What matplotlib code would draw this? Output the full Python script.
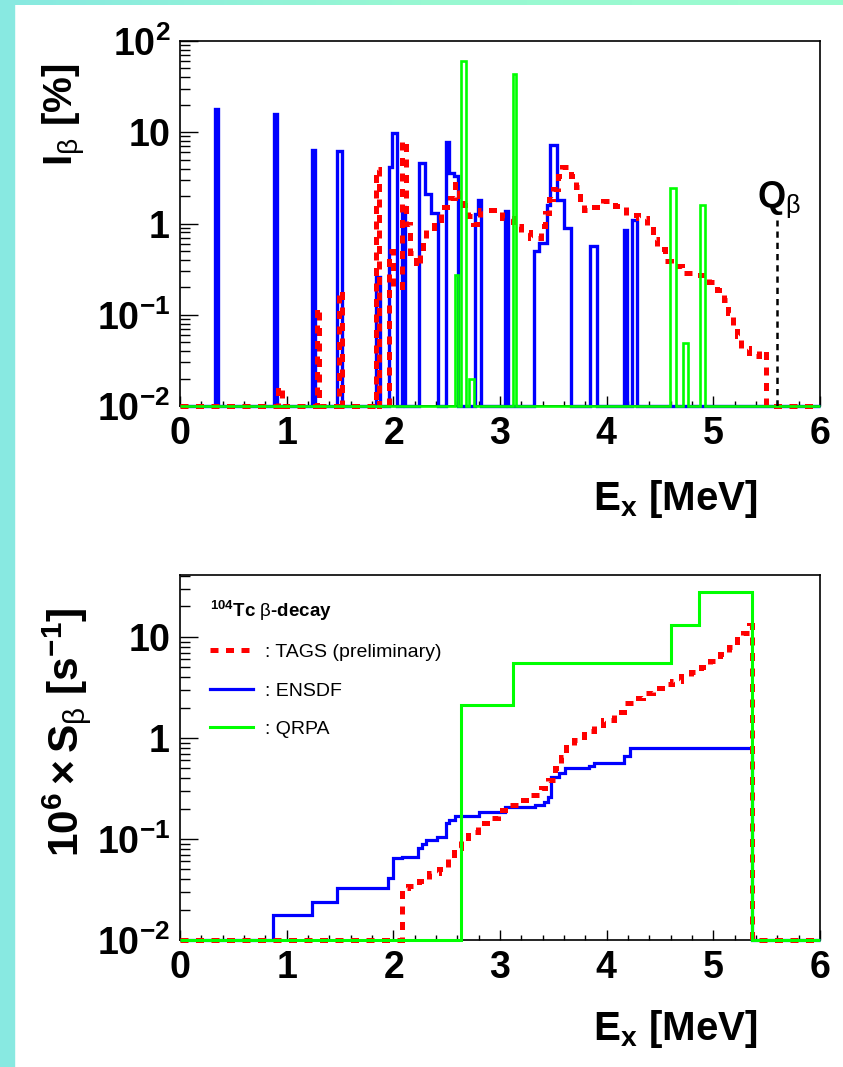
import numpy as np
import matplotlib
matplotlib.use("Agg")
import matplotlib.pyplot as plt
from matplotlib.lines import Line2D
from matplotlib.patches import Rectangle
from matplotlib.colors import LinearSegmentedColormap
from matplotlib.ticker import FuncFormatter, MultipleLocator, LogLocator, NullFormatter

plt.rcParams['font.family'] = ['Liberation Sans', 'DejaVu Sans']
plt.rcParams['mathtext.fontset'] = 'custom'
plt.rcParams['mathtext.rm'] = 'Liberation Sans'
plt.rcParams['mathtext.bf'] = 'Liberation Sans:bold'
plt.rcParams['mathtext.it'] = 'Liberation Sans:italic'

# ---- top panel: beta intensity per level (bars as lo, hi, value) ----
ensdf_bars = [(0.325, 0.355, 18), (0.883, 0.912, 16), (1.24, 1.27, 6.4), (1.473, 1.517, 6.2),
              (1.833, 1.877, 0.26), (1.959, 1.99, 4.2), (1.99, 2.033, 9.7), (2.08, 2.11, 1.5),
              (2.239, 2.297, 4.6), (2.297, 2.353, 2.1), (2.353, 2.416, 1.3),
              (2.492, 2.525, 7.8), (2.525, 2.569, 3.6), (2.569, 2.605, 3.3),
              (2.764, 2.79, 1.26), (2.79, 2.826, 1.8), (3.045, 3.075, 1.36),
              (3.32, 3.369, 0.50), (3.369, 3.44, 0.61), (3.44, 3.47, 1.6), (3.47, 3.53, 7.2),
              (3.53, 3.60, 1.8), (3.60, 3.666, 0.9), (3.844, 3.906, 0.57), (4.16, 4.19, 0.84),
              (4.24, 4.283, 1.09)]
qrpa_bars = [(2.58, 2.61, 0.27), (2.632, 2.68, 60), (2.708, 2.758, 0.02), (3.12, 3.15, 43),
             (4.598, 4.65, 2.47), (4.716, 4.764, 0.049), (4.876, 4.924, 1.58)]
tags_edges = [0.0, 0.92, 0.96, 1.28, 1.30, 1.495, 1.52, 1.835, 1.87, 1.96, 2.00, 2.085, 2.12,
              2.16, 2.21, 2.25, 2.28, 2.31, 2.38, 2.45, 2.53, 2.58, 2.62, 2.66, 2.70, 2.75, 2.81,
              3.02, 3.12, 3.20, 3.28, 3.38, 3.42, 3.46, 3.50, 3.54, 3.58, 3.67, 3.71, 3.75, 3.79,
              3.88, 3.97, 4.08, 4.18, 4.29, 4.38, 4.43, 4.47, 4.55, 4.60, 4.71, 4.84, 4.96, 5.03,
              5.10, 5.14, 5.18, 5.22, 5.26, 5.33, 5.43, 5.49, 6.0]
tags_vals = [0.01, 0.016, 0.01, 0.12, 0.01, 0.18, 0.01, 4.0, 0.01, 0.5, 0.2, 8.0, 1.0,
             0.47, 0.34, 0.48, 0.67, 0.9, 1.1, 1.5, 1.9, 2.7, 2.0, 1.6, 1.2, 1.0, 1.4,
             1.15, 0.95, 0.8, 0.7, 0.93, 1.3, 1.85, 2.4, 3.3, 4.2, 3.3, 2.5, 1.85, 1.4,
             1.5, 1.75, 1.55, 1.25, 1.16, 0.88, 0.67, 0.52, 0.39, 0.34, 0.29, 0.27, 0.23, 0.185,
             0.146, 0.104, 0.078, 0.058, 0.043, 0.035, 0.04, 0.01]
q_beta = 5.60
q_beta_top = 1.1

# ---- bottom panel: cumulative strength ----
ensdf_cum_edges = [0, 0.875, 1.235, 1.47, 1.947, 1.994, 2.08, 2.23, 2.27, 2.31, 2.41, 2.49, 2.52,
                   2.58, 2.80, 3.05, 3.33, 3.41, 3.45, 3.48, 3.55, 3.61, 3.83, 3.88, 4.16, 4.22,
                   5.36, 6.0]
ensdf_cum_vals = [0.01, 0.0177, 0.024, 0.0325, 0.041, 0.0645, 0.067, 0.081, 0.089, 0.098, 0.105,
                  0.143, 0.155, 0.169, 0.187, 0.209, 0.218, 0.234, 0.26, 0.414, 0.454, 0.50, 0.53,
                  0.57, 0.66, 0.8, 0.01]
tags_cum_edges = [0, 2.08, 2.14, 2.24, 2.33, 2.43, 2.51, 2.57, 2.63, 2.70, 2.79, 2.88, 2.98, 3.08,
                  3.18, 3.28, 3.38, 3.45, 3.52, 3.57, 3.62, 3.69, 3.79, 3.88, 3.97, 4.07, 4.16,
                  4.25, 4.34, 4.43, 4.52, 4.61, 4.70, 4.79, 4.88, 4.97, 5.06, 5.15, 5.22, 5.28,
                  5.33, 5.36, 6.0]
tags_cum_vals = [0.01, 0.0325, 0.034, 0.038, 0.046, 0.051, 0.064, 0.081, 0.102, 0.118, 0.143, 0.16,
                 0.194, 0.217, 0.243, 0.273, 0.318, 0.384, 0.50, 0.65, 0.82, 0.955, 1.16, 1.35,
                 1.5, 1.82, 2.2, 2.5, 2.8, 3.1, 3.4, 3.7, 4.1, 4.5, 5.0, 5.8, 6.8, 8.0, 9.5, 11,
                 13, 0.01]
qrpa_cum_edges = [0, 2.63, 3.12, 4.60, 4.87, 5.36, 6.0]
qrpa_cum_vals = [0.01, 2.1, 5.5, 13, 28, 0.01]

legend_title = r'$^{\mathbf{104}}$Tc $\mathrm{\beta}$-decay'
legend_labels = [': TAGS (preliminary)', ': ENSDF', ': QRPA']

RED, BLUE, GREEN = '#ff0000', '#0000ff', '#00ff00'
DASH = (0, (1.6, 1.5))


#turns a list of bars into edges/values for a step histogram
def bars_to_steps(bars, base=0.01, xmax=6.0):
    edges = [0.0]
    vals = []
    for lo, hi, v in bars:
        if lo > edges[-1] + 1e-9:
            vals.append(base)
            edges.append(lo)
        vals.append(v)
        edges.append(hi)
    if edges[-1] < xmax:
        vals.append(base)
        edges.append(xmax)
    return edges, vals


def log_label(v, pos):
    e = int(round(np.log10(v)))
    if e == 0:
        return r'$\mathbf{1}$'
    if e == 1:
        return r'$\mathbf{10}$'
    return r'$\mathbf{10^{%d}}$' % e


def style_axes(ax, ymax):
    ax.set_xlim(0, 6)
    ax.set_yscale('log')
    ax.set_ylim(0.01, ymax)
    ax.set_xticks(range(7))
    ax.xaxis.set_minor_locator(MultipleLocator(0.2))
    ax.xaxis.set_major_formatter(FuncFormatter(lambda v, p: r'$\mathbf{%d}$' % v))
    ax.yaxis.set_major_locator(LogLocator(base=10, numticks=10))
    ax.yaxis.set_minor_locator(LogLocator(base=10, subs=np.arange(2, 10), numticks=20))
    ax.yaxis.set_major_formatter(FuncFormatter(log_label))
    ax.yaxis.set_minor_formatter(NullFormatter())
    ax.tick_params(which='both', direction='in', top=False, right=False, labelsize=27,
                   width=1.0, color='black')
    ax.tick_params(axis='x', which='major', length=7.5, pad=7)
    ax.tick_params(axis='x', which='minor', length=3.8)
    ax.tick_params(axis='y', which='major', length=13, pad=7)
    ax.tick_params(axis='y', which='minor', length=7)
    for s in ax.spines.values():
        s.set_linewidth(1.2)


fig = plt.figure(figsize=(8.43, 10.67), dpi=100)

# background decoration (cyan strip left, gradient strip top)
fig.patches.append(Rectangle((0, 0), 14 / 843, 1, transform=fig.transFigure,
                             color='#88e9e1', zorder=0))
ax_bg = fig.add_axes([0, 1 - 5 / 1067, 1, 5 / 1067])
grad_cmap = LinearSegmentedColormap.from_list('bg', ['#88e9e1', '#98f8d2', '#9cfccf'])
ax_bg.imshow(np.linspace(0, 1, 256)[None, :], aspect='auto', cmap=grad_cmap)
ax_bg.axis('off')

ax1 = fig.add_axes([180 / 843, 1 - 406 / 1067, 640 / 843, 365 / 1067])
ax2 = fig.add_axes([180 / 843, 1 - 940 / 1067, 640 / 843, 365 / 1067])

# top panel
e, v = bars_to_steps(ensdf_bars)
ax1.stairs(v, e, baseline=None, color=BLUE, lw=2.4, zorder=3, clip_on=False)
ax1.stairs(tags_vals, tags_edges, baseline=None, color=RED, lw=3.6, linestyle=DASH,
           zorder=4, clip_on=False)
e, v = bars_to_steps(qrpa_bars)
ax1.stairs(v, e, baseline=None, color=GREEN, lw=1.9, zorder=5, clip_on=False)
ax1.plot([q_beta, q_beta], [0.01, q_beta_top], color='black', lw=1.8,
         linestyle=(0, (2.5, 2.0)), zorder=6)
ax1.text(q_beta - 0.19, 1.5, r'$\mathbf{Q}_{\mathrm{\beta}}$', fontsize=26, va='baseline')
style_axes(ax1, 100)
ax1.text(-0.18, 0.797, r'$\mathbf{I}_{\mathrm{\beta}}\ \mathbf{[\%]}$', rotation=90,
         fontsize=29, transform=ax1.transAxes, ha='center', va='center')
ax1.text(0.903, -0.285, r'$\mathbf{E_{x}\ [MeV]}$', fontsize=29, transform=ax1.transAxes,
         ha='right', va='baseline')

# bottom panel
ax2.stairs(ensdf_cum_vals, ensdf_cum_edges, baseline=None, color=BLUE, lw=2.3, zorder=3,
           clip_on=False)
ax2.stairs(tags_cum_vals, tags_cum_edges, baseline=None, color=RED, lw=3.6, linestyle=DASH,
           zorder=4, clip_on=False)
ax2.stairs(qrpa_cum_vals, qrpa_cum_edges, baseline=None, color=GREEN, lw=2.2, zorder=5,
           clip_on=False)
style_axes(ax2, 41)
ax2.text(-0.177, 0.57, r'$\mathbf{10^{6}\times S_{\mathrm{\beta}}\ [s^{-1}]}$', rotation=90,
         fontsize=30.5, transform=ax2.transAxes, ha='center', va='center')
ax2.text(0.903, -0.274, r'$\mathbf{E_{x}\ [MeV]}$', fontsize=29, transform=ax2.transAxes,
         ha='right', va='baseline')

handles = [Line2D([], [], color=RED, lw=3.6, linestyle=DASH),
           Line2D([], [], color=BLUE, lw=2.3),
           Line2D([], [], color=GREEN, lw=2.2)]
ax2.legend(handles, legend_labels, loc='upper left', bbox_to_anchor=(0.047, 0.935),
           frameon=False, fontsize=14, title=legend_title,
           title_fontproperties={'weight': 'bold', 'size': 13.5},
           handlelength=2.2, handletextpad=0.6, labelspacing=1.07, borderpad=0,
           borderaxespad=0, alignment='left')

fig.savefig('out.png', dpi=100)
